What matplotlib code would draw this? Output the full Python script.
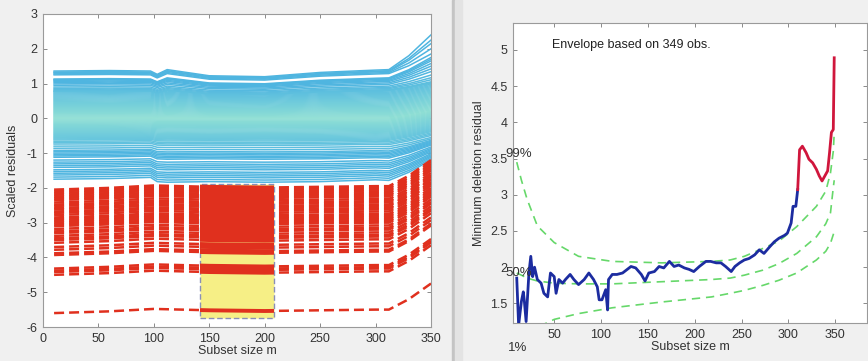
import numpy as np
import matplotlib
matplotlib.use("Agg")
import matplotlib.pyplot as plt
from matplotlib.colors import LinearSegmentedColormap
from matplotlib.patches import Rectangle

plt.rcParams['font.family'] = ['Liberation Sans', 'DejaVu Sans']
plt.rcParams['axes.unicode_minus'] = False

# ---------------- left panel data: forward plot of scaled residuals ----------------
# residual level of each "good" unit at m = 10
cyan_levels = [1.36, 1.33, 1.31, 1.28, 1.25, 1.13, 1.11, 1.09, 1.06, 1.03, 0.99, 0.95,
               0.90, 0.86, 0.83, 0.80, 0.78, 0.76, 0.73, 0.70, 0.67, 0.64, 0.61, 0.58,
               0.55, 0.52, 0.49, 0.46, 0.43, 0.40, 0.37, 0.34, 0.31, 0.28, 0.25, 0.22,
               0.19, 0.16, 0.13, 0.10, 0.07, 0.04, 0.01, -0.02, -0.05, -0.08, -0.11,
               -0.14, -0.17, -0.20, -0.23, -0.26, -0.29, -0.32, -0.35, -0.38, -0.41,
               -0.44, -0.47, -0.50, -0.53, -0.56, -0.59, -0.62, -0.66, -0.70, -0.74,
               -0.80, -0.86, -0.92, -0.96, -1.00, -1.04, -1.08, -1.12, -1.20, -1.26,
               -1.31, -1.36, -1.41, -1.48, -1.53, -1.58, -1.63, -1.69, -1.75]
# subset sizes where the trajectories change direction
cyan_m = [10, 60, 97, 103, 112, 150, 200, 250, 300, 312]
cyan_up_scale = [1.0, 1.01, 1.0, 0.93, 1.03, 0.90, 0.88, 0.97, 1.02, 1.03]
cyan_dn_scale = [1.0, 0.99, 0.97, 1.04, 1.05, 1.04, 1.05, 1.04, 1.01, 1.02]
# level at m = 10 -> level at m = 350 (fan at the end of the search)
cyan_end_from = [-1.75, -0.80, 0.0, 0.80, 1.03, 1.13, 1.25, 1.36]
cyan_end_to = [-1.20, -0.55, 0.2, 1.05, 1.50, 1.75, 1.85, 2.40]

# outlying units (red dashed)
red_levels = [-2.05, -2.10, -2.15, -2.20, -2.25, -2.30, -2.35, -2.42, -2.48, -2.52,
              -2.58, -2.62, -2.68, -2.72, -2.78, -2.85, -2.90, -2.95, -3.00, -3.05,
              -3.10, -3.18, -3.25, -3.30, -3.38, -3.45, -3.50, -3.58, -3.70, -3.78,
              -3.88, -3.93, -4.32, -4.38, -4.42, -4.50, -5.60]
red_m = [10, 60, 100, 150, 200, 250, 300, 312, 330, 350]
red_shift = [0.0, 0.05, 0.12, 0.08, 0.06, 0.08, 0.10, 0.10, 0.40, 0.85]

# brushed selection
sel_m = [142, 208]
sel_res = [-5.75, -1.89]

# ---------------- right panel data: minimum deletion residual ----------------
mdr_m = [10, 12, 15, 17, 18, 20, 23, 25, 27, 29, 32, 36, 39, 43, 46, 50, 52, 55, 59,
         62, 67, 71, 76, 82, 87, 92, 96, 98, 101, 105, 107, 108, 112, 117, 123, 128,
         132, 137, 143, 147, 151, 157, 162, 167, 173, 178, 183, 189, 194, 199, 205,
         212, 217, 223, 228, 233, 239, 243, 248, 253, 258, 264, 269, 274, 280, 285,
         290, 296, 299, 303, 305, 308, 310]
mdr_val = [1.85, 1.20, 1.53, 1.66, 1.55, 1.25, 1.92, 2.15, 1.87, 2.00, 1.83, 1.78,
           1.64, 1.59, 1.92, 1.87, 1.64, 1.83, 1.78, 1.83, 1.90, 1.83, 1.76, 1.83,
           1.92, 1.83, 1.73, 1.55, 1.55, 1.69, 1.41, 1.83, 1.90, 1.90, 1.92, 1.97,
           2.01, 1.99, 1.90, 1.81, 1.92, 1.94, 2.01, 1.99, 2.08, 2.01, 2.03, 1.99,
           1.97, 1.94, 2.01, 2.08, 2.08, 2.06, 2.06, 2.01, 1.94, 2.01, 2.06, 2.10,
           2.12, 2.17, 2.24, 2.19, 2.28, 2.35, 2.40, 2.44, 2.47, 2.61, 2.84, 2.84,
           3.07]
out_m = [310, 312, 315, 319, 322, 326, 330, 333, 336, 339, 342, 344, 346, 348, 349]
out_val = [3.07, 3.62, 3.67, 3.58, 3.49, 3.44, 3.35, 3.26, 3.19, 3.26, 3.33, 3.58,
           3.86, 3.90, 4.89]

env_m = [10, 15, 21, 32, 50, 76, 112, 165, 218, 238, 253, 273, 290, 309, 330, 340,
         345, 348, 349]
env99 = [3.45, 3.20, 2.94, 2.57, 2.34, 2.15, 2.08, 2.06, 2.08, 2.10, 2.15, 2.26,
         2.36, 2.56, 2.84, 3.05, 3.30, 3.60, 3.85]
env50 = [1.92, 1.89, 1.85, 1.81, 1.78, 1.77, 1.77, 1.80, 1.83, 1.85, 1.89, 1.96,
         2.05, 2.19, 2.42, 2.60, 2.75, 3.10, 3.20]
env01 = [0.95, 1.02, 1.08, 1.17, 1.28, 1.36, 1.44, 1.52, 1.59, 1.64, 1.68, 1.75,
         1.82, 1.92, 2.10, 2.22, 2.33, 2.45, 2.50]

W, H = 868, 361
fig = plt.figure(figsize=(W / 100, H / 100), dpi=100, facecolor='#f0f0f0')

# separator between the two windows
fig.add_artist(Rectangle((452 / W, 0), 3 / W, 1, transform=fig.transFigure,
                         color='#c4c4c4', zorder=0))
fig.add_artist(Rectangle((455 / W, 0), 7 / W, 1, transform=fig.transFigure,
                         color='#e3e3e3', zorder=0))

tick_col = '#333333'
spine_col = '#9a9a9a'


def style_axes(ax):
    ax.tick_params(direction='in', top=True, right=True, length=3, width=0.6,
                   color='#777777', labelsize=9, labelcolor=tick_col, pad=4)
    for s in ax.spines.values():
        s.set_color(spine_col)
        s.set_linewidth(0.8)


# ---------------- left ----------------
ax1 = fig.add_axes([43 / W, 1 - 327 / H, 388 / W, 313 / H])
cmap = LinearSegmentedColormap.from_list('cy', ['#8fdfd4', '#6fcbdc', '#4fb5e0'])

for lv in cyan_levels:
    scale = cyan_up_scale if lv > 0 else cyan_dn_scale
    vals = [lv * s for s in scale]
    end = float(np.interp(lv, cyan_end_from, cyan_end_to))
    ms = cyan_m + [330, 350]
    vals = vals + [vals[-1] + 0.4 * (end - vals[-1]), end]
    c = cmap(min(abs(lv) / 1.0, 1.0))
    ax1.plot(ms, vals, color=c, lw=1.1, zorder=2)

rect = Rectangle((sel_m[0], sel_res[0]), sel_m[1] - sel_m[0], sel_res[1] - sel_res[0],
                 facecolor='#f6ef86', edgecolor='#8a8fb8', lw=1.0, ls=(0, (4, 2)),
                 zorder=4)
red_c = '#e0301e'
for lv in red_levels:
    vals = [lv + s for s in red_shift]
    ax1.plot(red_m, vals, color=red_c, lw=1.8, dashes=(4, 2), dash_capstyle='butt',
             zorder=3)
ax1.add_patch(rect)
clip = Rectangle((sel_m[0], sel_res[0]), sel_m[1] - sel_m[0], sel_res[1] - sel_res[0],
                 transform=ax1.transData, visible=False)
ax1.add_patch(clip)
for lv in red_levels:
    vals = [lv + s for s in red_shift]
    ln, = ax1.plot(red_m, vals, color=red_c, lw=2.8, zorder=5)
    ln.set_clip_path(clip)

ax1.set_xlim(0, 350)
ax1.set_ylim(-6, 3)
ax1.set_xticks(range(0, 351, 50))
ax1.set_yticks(range(-6, 4))
ax1.set_xlabel('Subset size m', fontsize=9, color=tick_col, labelpad=0)
ax1.set_ylabel('Scaled residuals', fontsize=9, color=tick_col, labelpad=5)
style_axes(ax1)

# ---------------- right ----------------
ax2 = fig.add_axes([513 / W, 1 - 323 / H, 354 / W, 300 / H])
gr = '#66d86a'
for env in (env99, env50, env01):
    ax2.plot(env_m, env, color=gr, lw=1.2, dashes=(5, 3.5), zorder=2)
ax2.plot(mdr_m, mdr_val, color='#1c2ca0', lw=2.0, zorder=3)
ax2.plot(out_m, out_val, color='#d0163c', lw=2.0, zorder=3)

ax2.set_xlim(6, 384)
ax2.set_ylim(1.23, 5.37)
ax2.set_xticks(range(50, 351, 50))
ax2.set_yticks([1.5, 2, 2.5, 3, 3.5, 4, 4.5, 5])
ax2.set_yticklabels(['1.5', '2', '2.5', '3', '3.5', '4', '4.5', '5'])
ax2.set_xlabel('Subset size m', fontsize=9, color=tick_col, labelpad=0)
ax2.set_ylabel('Minimum deletion residual', fontsize=9, color=tick_col, labelpad=4)
style_axes(ax2)

ax2.text(47.5, 5.07, 'Envelope based on 349 obs.', fontsize=9, color='#222222',
         va='center', ha='left')
ax2.text(-2.3, 3.56, '99%', fontsize=9.5, color='#333333', va='center', ha='left',
         clip_on=False)
ax2.text(-2.3, 1.92, '50%', fontsize=9.5, color='#333333', va='center', ha='left',
         clip_on=False)
ax2.text(0.9, 0.88, '1%', fontsize=9.5, color='#333333', va='center', ha='left',
         clip_on=False)

fig.savefig('out.png', dpi=100, facecolor=fig.get_facecolor())
